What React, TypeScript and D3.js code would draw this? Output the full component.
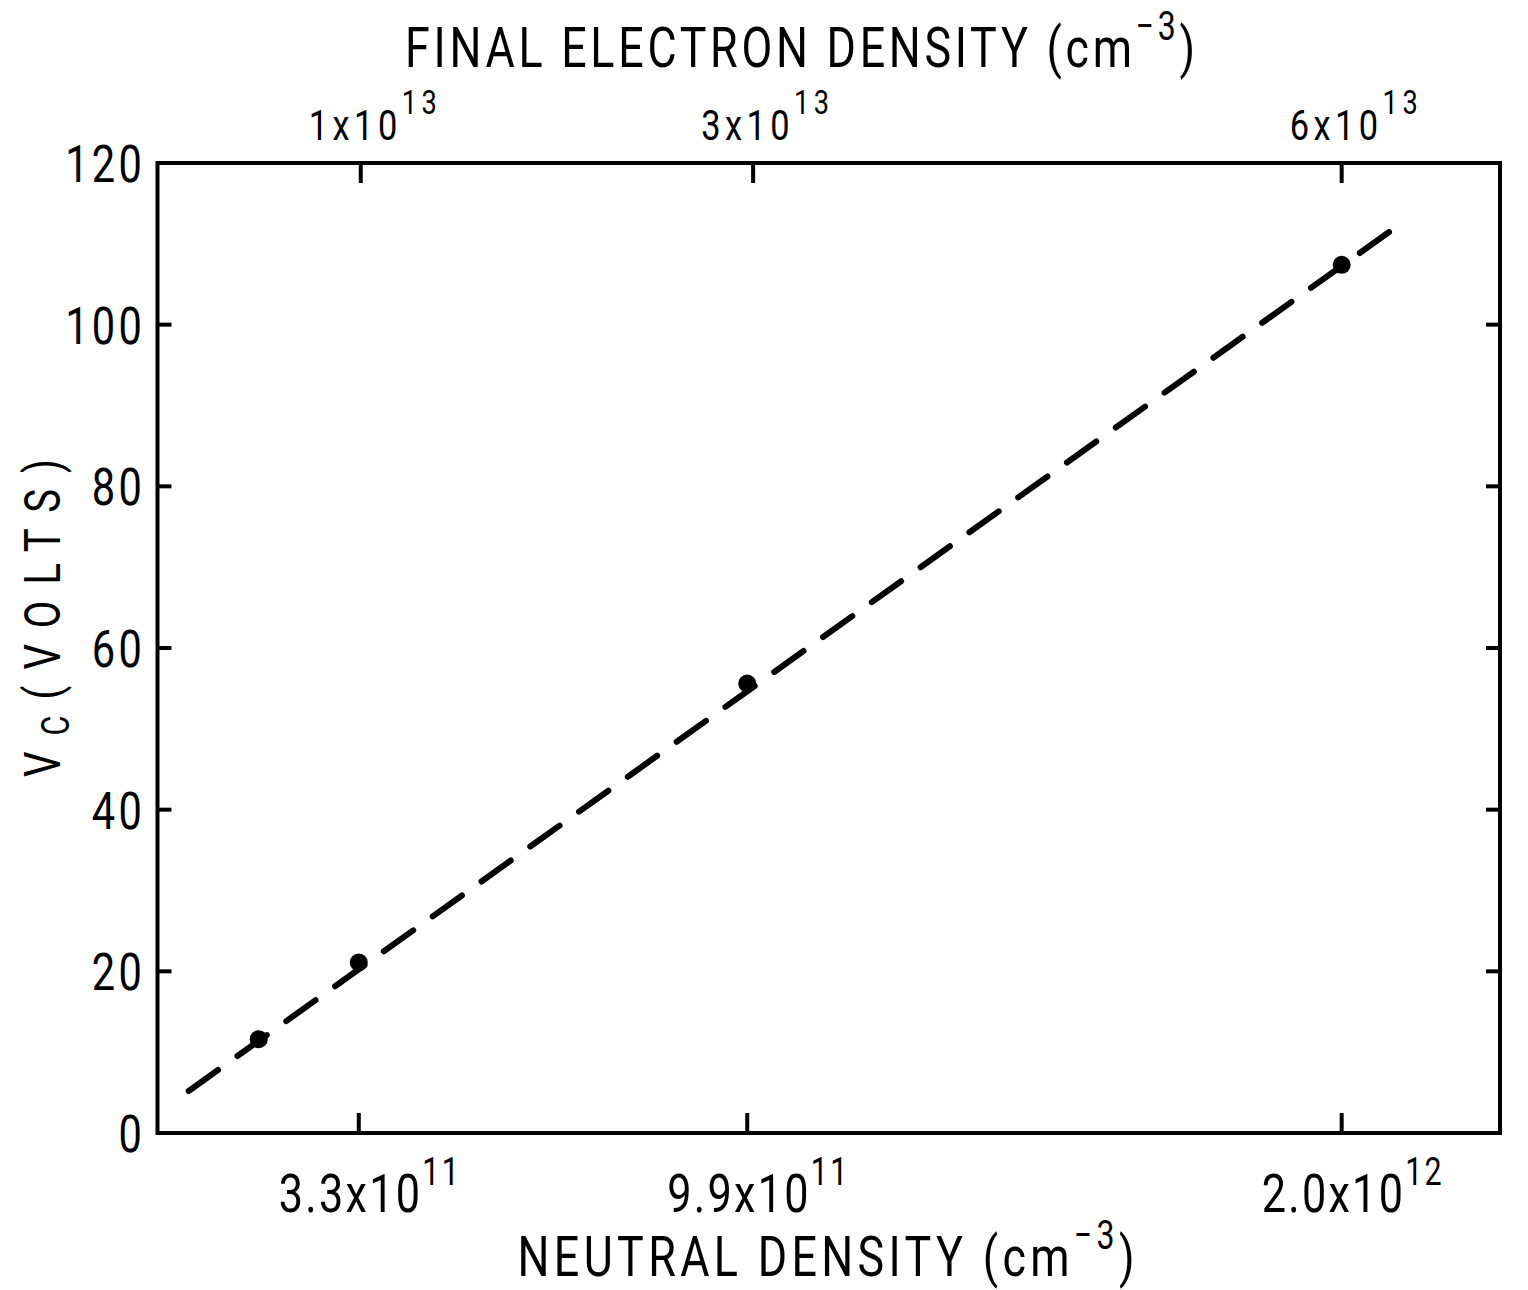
import React from "react";
import * as d3 from "d3";

// Measured points: neutral density (cm^-3) vs. critical voltage Vc (volts)
const neutralDensity = [1.6e11, 3.3e11, 9.9e11, 2.0e12];
const vcVolts = [11.6, 21.1, 55.6, 107.4];

// Straight-line fit drawn dashed through the points
const fitNeutral = [0.41e11, 2.11e12];
const fitVc = [5.2, 113.0];

// Bottom axis (neutral density)
const bottomTicks = [3.3e11, 9.9e11, 2.0e12];
const bottomMantissa = ["3.3", "9.9", "2.0"];
const bottomExponent = ["11", "11", "12"];

// Top axis (final electron density = 30 x neutral density)
const electronPerNeutral = 30;
const topTicks = [1e13, 3e13, 6e13];
const topMantissa = ["1", "3", "6"];
const topExponent = ["13", "13", "13"];

// Left axis (volts)
const yTicks = [0, 20, 40, 60, 80, 100, 120];

const W = 1528;
const H = 1290;
const FONT = "Roboto, 'DejaVu Sans', sans-serif";
const INK = "#000";
const NARROW = 0.8; // horizontal squeeze for the lettering-guide look

// Text squeezed horizontally; spacing spreads it to the requested length
function Lettering({ x, y, size, length, anchor = "middle", rotate = 0, spacing, children }: any) {
  return (
    <g transform={`translate(${x},${y}) rotate(${rotate}) scale(${NARROW},1)`}>
      <text
        x={0}
        y={0}
        textAnchor={anchor}
        fontSize={size}
        fontFamily={FONT}
        fontWeight={400}
        fill={INK}
        textLength={length ? length / NARROW : undefined}
        lengthAdjust={length ? "spacing" : undefined}
        letterSpacing={spacing}
      >
        {children}
      </text>
    </g>
  );
}

function supParts(base: string, sup: string, supSize: number, rise: number, after?: string) {
  return [
    <tspan key="b">{base}</tspan>,
    <tspan key="s" dy={-rise} fontSize={supSize}>
      {sup}
    </tspan>,
    after ? (
      <tspan key="a" dy={rise}>
        {after}
      </tspan>
    ) : null,
  ];
}

export default function App() {
  const x = d3.scaleLinear().domain([-0.12e11, 22.69e11]).range([157.5, 1500]);
  const xTop = d3
    .scaleLinear()
    .domain(x.domain().map((d) => d * electronPerNeutral))
    .range(x.range());
  const y = d3.scaleLinear().domain([0, 120]).range([1133, 163]);

  const [x0, x1] = x.range();
  const [yb, yt] = y.range();
  const tickLen = 20;

  const fitLine = d3
    .line<number>()
    .x((_, i) => x(fitNeutral[i]))
    .y((d) => y(d));

  return (
    <svg
      width={W}
      height={H}
      viewBox={`0 0 ${W} ${H}`}
      style={{ position: "absolute", left: 0, top: 0, background: "#fff" }}
    >
      <rect x={0} y={0} width={W} height={H} fill="#fff" />

      {/* frame */}
      <rect
        x={x0}
        y={yt}
        width={x1 - x0}
        height={yb - yt}
        fill="none"
        stroke={INK}
        strokeWidth={4}
      />

      {/* left / right ticks */}
      {yTicks.map((t) => (
        <g key={`y${t}`}>
          <line x1={x0} x2={x0 + 14} y1={y(t)} y2={y(t)} stroke={INK} strokeWidth={4} />
          <line x1={x1} x2={x1 - 14} y1={y(t)} y2={y(t)} stroke={INK} strokeWidth={4} />
          <Lettering x={145} y={y(t) + 19} size={52} anchor="end" spacing={4}>
            {t}
          </Lettering>
        </g>
      ))}

      {/* bottom ticks */}
      {bottomTicks.map((t, i) => (
        <g key={`b${i}`}>
          <line x1={x(t)} x2={x(t)} y1={yb} y2={yb - tickLen} stroke={INK} strokeWidth={4} />
          <Lettering x={x(t) + 10} y={1212} size={54} length={180}>
            {supParts(`${bottomMantissa[i]}x10`, bottomExponent[i], 38, 27)}
          </Lettering>
        </g>
      ))}

      {/* top ticks */}
      {topTicks.map((t, i) => (
        <g key={`t${i}`}>
          <line x1={xTop(t)} x2={xTop(t)} y1={yt} y2={yt + tickLen} stroke={INK} strokeWidth={4} />
          <Lettering x={xTop(t) + 12} y={140} size={43} length={128}>
            {supParts(`${topMantissa[i]}x10`, topExponent[i], 34, 26)}
          </Lettering>
        </g>
      ))}

      {/* axis titles */}
      <Lettering x={800} y={67} size={56} length={790}>
        {supParts("FINAL ELECTRON DENSITY (cm", "\u22123", 40, 27, ")")}
      </Lettering>
      <Lettering x={826} y={1276} size={56} length={617}>
        {supParts("NEUTRAL DENSITY (cm", "\u22123", 40, 27, ")")}
      </Lettering>
      <Lettering x={60} y={618} size={50} length={318} rotate={-90}>
        <tspan>V</tspan>
        <tspan dy={9} fontSize={38}>
          C
        </tspan>
        <tspan dy={-9}>(VOLTS)</tspan>
      </Lettering>

      {/* dashed fit */}
      <path
        d={fitLine(fitVc) || ""}
        fill="none"
        stroke={INK}
        strokeWidth={6}
        strokeLinecap="round"
        strokeDasharray="36 24"
      />

      {/* data points */}
      {neutralDensity.map((n, i) => (
        <circle key={`p${i}`} cx={x(n)} cy={y(vcVolts[i])} r={9} fill={INK} />
      ))}
    </svg>
  );
}
